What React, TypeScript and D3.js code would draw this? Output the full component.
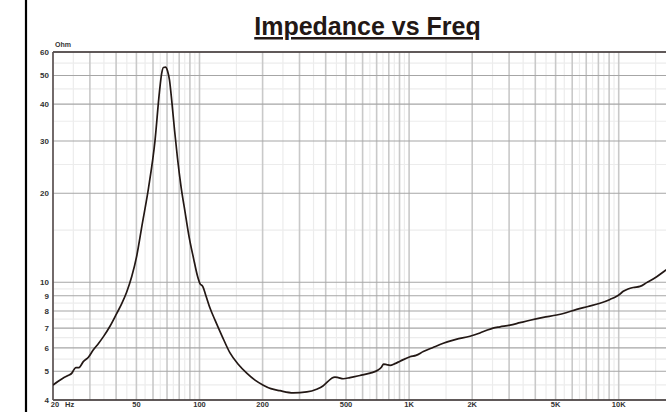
import * as d3 from "d3";

// impedance curve
const freqHz = [
  20, 21.1, 22.3, 23.6, 24.6, 25.2, 25.7, 26.6, 27.9, 29.5, 31.1, 32.9, 34.8, 37.4,
  40.3, 42.5, 44.9, 47.5, 50.1, 53.2, 57.1, 61.3, 64.4, 66.0, 67.3, 68.8,
  70.4, 71.9, 73.9, 76.0, 78.5, 81.6, 85.3, 89.1, 93.6, 97.8, 100.5, 103.6, 107.4,
  112.2, 118.6, 128.1, 139.8, 152.6, 168, 184, 201.5, 219, 242, 280, 325, 362, 388,
  410, 429, 443, 459, 485, 522, 583, 651, 711, 739, 755, 780, 811, 856, 905, 1010,
  1079, 1169, 1300, 1456, 1674, 1952, 2178, 2346, 2514, 2715, 3030, 3382, 3774, 4368,
  5060, 5606, 6304, 7138, 8142, 9090, 9782, 10150, 10520, 11080, 11740, 12640, 13600,
  15180, 16810, 20000,
];
const impedanceOhm = [
  4.49, 4.62, 4.74, 4.84, 4.93, 5.07, 5.15, 5.15, 5.39, 5.58, 5.9, 6.2, 6.55, 7.1,
  7.85, 8.45, 9.25, 10.45, 12.2, 15.6, 20.8, 30.0, 44.0, 50.8, 53.2, 53.3,
  51.8, 48.3, 40.3, 32.7, 26.3, 21.1, 17.3, 14.3, 12.07, 10.5, 9.9, 9.68, 8.99,
  8.18, 7.45, 6.58, 5.77, 5.29, 4.93, 4.67, 4.49, 4.37, 4.3, 4.23, 4.26, 4.35, 4.46,
  4.62, 4.75, 4.78, 4.76, 4.72, 4.76, 4.84, 4.93, 5.05, 5.17, 5.29, 5.27, 5.24, 5.31, 5.41, 5.6,
  5.66, 5.83, 6.02, 6.22, 6.41, 6.57, 6.74, 6.88, 7.0, 7.07, 7.16, 7.3, 7.44, 7.61,
  7.75, 7.89, 8.1, 8.28, 8.49, 8.75, 8.97, 9.13, 9.32, 9.49, 9.6, 9.68, 9.97,
  10.44, 11.0, 11.9,
];

const xLabelValues = [20, 50, 100, 200, 500, 1000, 2000, 5000, 10000];
const xLabelText = ["20", "50", "100", "200", "500", "1K", "2K", "5K", "10K"];
const yLabelValues = [4, 5, 6, 7, 8, 9, 10, 20, 30, 40, 50, 60];

const W = 666;
const H = 412;
const left = 53;
const top = 52;
const bottom = 400;
const decadePx = 209.6;
const right = left + decadePx * 3; // 20 Hz - 20 kHz, runs off the right edge like the original

const font = "'Liberation Sans', Arial, Helvetica, sans-serif";
const ink = "#231815";

// half-step grid lines (15, 25, ... 4.5, 5.5 ...)
function halfSteps(lo: number, hi: number) {
  const out: number[] = [];
  for (let p = 1; p <= 10000; p *= 10) {
    for (let k = 1; k <= 9; k++) {
      const v = (k + 0.5) * p;
      if (v > lo && v < hi) out.push(v);
    }
  }
  return out;
}

export default function App() {
  const x = d3.scaleLog().domain([20, 20000]).range([left, right]);
  const y = d3.scaleLog().domain([4, 60]).range([bottom, top]);

  const majorX = x.ticks();
  const majorY = y.ticks();
  const minorX = halfSteps(20, 20000);
  const minorY = halfSteps(4, 60);

  const line = d3
    .line<number>()
    .x((_, i) => x(freqHz[i]))
    .y((d) => y(d))
    .curve(d3.curveMonotoneX);

  return (
    <svg
      width={W}
      height={H}
      style={{ position: "absolute", left: 0, top: 0, background: "#fff" }}
      fontFamily={font}
    >
      <defs>
        <clipPath id="plot">
          <rect x={left} y={top} width={right - left} height={bottom - top} />
        </clipPath>
      </defs>

      {/* left page border */}
      <line x1={26} x2={26} y1={0} y2={H} stroke="#000" strokeWidth={2.2} />

      <text
        x={367.5}
        y={35}
        textAnchor="middle"
        fontSize={25}
        fontWeight="bold"
        fill={ink}
        style={{ textDecoration: "underline" }}
      >
        Impedance vs Freq
      </text>

      {/* minor grid */}
      {minorX.map((v) => (
        <line key={"mx" + v} x1={x(v)} x2={x(v)} y1={top} y2={bottom} stroke="#ececec" strokeWidth={1.2} />
      ))}
      {minorY.map((v) => (
        <line key={"my" + v} x1={left} x2={right} y1={y(v)} y2={y(v)} stroke="#ececec" strokeWidth={1.2} />
      ))}

      {/* major grid */}
      {majorX.map((v) => (
        <line key={"gx" + v} x1={x(v)} x2={x(v)} y1={top} y2={bottom} stroke="#c9c9c9" strokeWidth={1.6} />
      ))}
      {majorY.map((v) => (
        <line key={"gy" + v} x1={left} x2={right} y1={y(v)} y2={y(v)} stroke="#a6a6a6" strokeWidth={1.1} />
      ))}

      {/* frame */}
      <line x1={left} x2={right} y1={top} y2={top} stroke="#3a3030" strokeWidth={1.6} />
      <line x1={left} x2={right} y1={bottom} y2={bottom} stroke="#3a3030" strokeWidth={1.6} />
      <line x1={left} x2={left} y1={top} y2={bottom} stroke="#5a5050" strokeWidth={1.6} />

      <path
        d={line(impedanceOhm) ?? ""}
        fill="none"
        stroke={ink}
        strokeWidth={1.7}
        strokeLinejoin="round"
        clipPath="url(#plot)"
      />

      {/* y labels */}
      {yLabelValues.map((v) => (
        <text
          key={"yl" + v}
          x={49}
          y={y(v)}
          dy="0.35em"
          textAnchor="end"
          fontSize={8}
          fontWeight="bold"
          fill="#333"
        >
          {v}
        </text>
      ))}
      <text x={55} y={47} fontSize={7} fontWeight="bold" fill="#333">
        Ohm
      </text>

      {/* x labels */}
      {xLabelValues.map((v, i) => (
        <text
          key={"xl" + v}
          x={x(v) + (i === 0 ? 2 : 0)}
          y={406.5}
          textAnchor="middle"
          fontSize={7.5}
          fontWeight="bold"
          fill="#333"
        >
          {xLabelText[i]}
        </text>
      ))}
      <text x={65} y={406.5} fontSize={7.5} fontWeight="bold" fill="#333">
        Hz
      </text>
    </svg>
  );
}
